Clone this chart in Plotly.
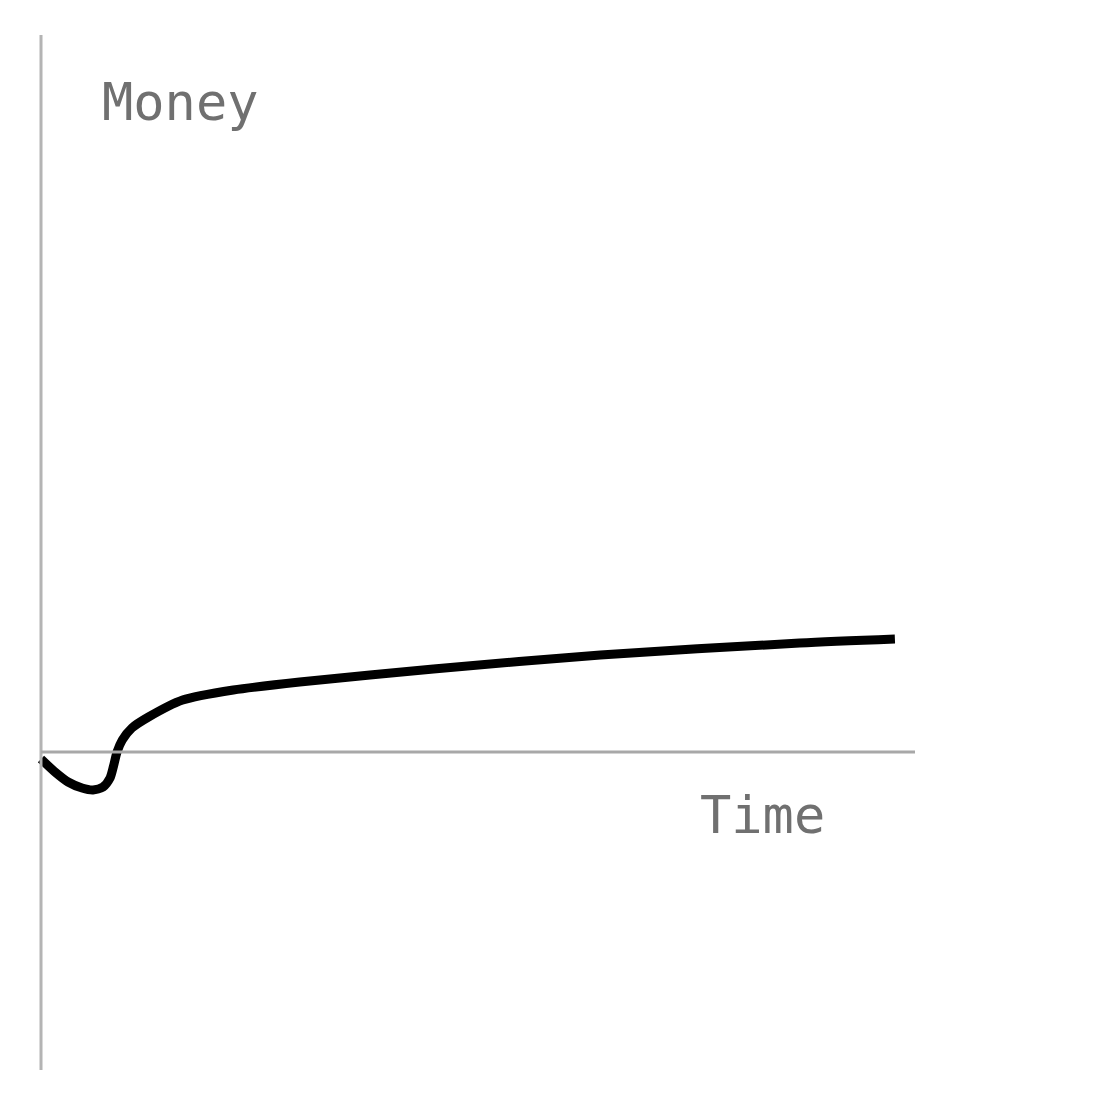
import plotly.graph_objects as go

# time (0..100 along the axis) and money (0 = the time axis)
time = [0, 1.6, 3.1, 4.7, 5.95, 7.1, 7.9, 8.3, 8.7, 9.3, 10.4, 12.3, 16.2, 22.0, 29.6, 44.9, 64.0, 86.8, 97.7]
money = [-7, -20, -30, -36, -38, -35, -26, -14, 0, 12, 24, 35, 52, 62, 70, 83, 97, 109, 113]

x_label = "Time"
y_label = "Money"

fig = go.Figure()
fig.add_trace(
    go.Scatter(
        x=time,
        y=money,
        mode="lines",
        line=dict(color="black", width=9, shape="spline", smoothing=0.7),
        showlegend=False,
        hoverinfo="skip",
    )
)

# hand drawn looking axes
fig.add_shape(type="line", x0=0, x1=0, y0=-318, y1=717, line=dict(color="#b4b4b4", width=3))
fig.add_shape(type="line", x0=0, x1=100, y0=0, y1=0, line=dict(color="#a8a8a8", width=3))

label_font = dict(family="DejaVu Sans Mono", size=52, color="#707070")
fig.add_annotation(x=16.0, y=650, text=y_label, showarrow=False, font=label_font)
fig.add_annotation(x=82.6, y=-63, text=x_label, showarrow=False, font=label_font)

# page has an 8px body margin, so the ranges are shifted to keep the marks in place
fig.update_layout(
    width=1116,
    height=1116,
    margin=dict(l=0, r=0, t=0, b=0),
    plot_bgcolor="white",
    paper_bgcolor="white",
    xaxis=dict(range=[(8 - 41) / 8.74, (1124 - 41) / 8.74], visible=False, fixedrange=True),
    yaxis=dict(range=[752 - 1124, 752 - 8], visible=False, fixedrange=True),
)
fig.write_html("out.html")
